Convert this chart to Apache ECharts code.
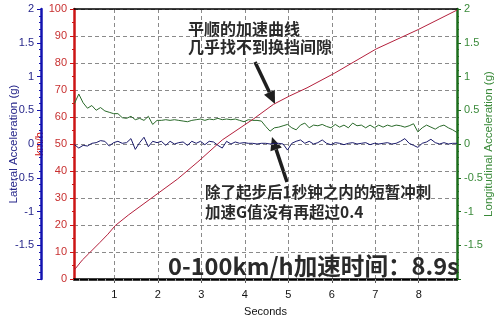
<!DOCTYPE html>
<html>
<head>
<meta charset="utf-8">
<script src="https://cdn.jsdelivr.net/npm/echarts@6/dist/echarts.min.js"></script>
<style>
  html, body { margin: 0; padding: 0; background: #ffffff; }
  #chart { width: 503px; height: 322px; }
</style>
</head>
<body>
<div id="chart"></div>
<script>
// Sample times (s) for the two acceleration traces
const seconds = [
  0.08, 0.18, 0.28, 0.38, 0.48, 0.58, 0.68, 0.78, 0.88, 0.98,
  1.08, 1.18, 1.28, 1.38, 1.48, 1.58, 1.68, 1.78, 1.88, 1.98,
  2.08, 2.18, 2.28, 2.38, 2.48, 2.58, 2.68, 2.78, 2.88, 2.98,
  3.08, 3.18, 3.28, 3.38, 3.48, 3.58, 3.68, 3.78, 3.88, 3.98,
  4.08, 4.18, 4.28, 4.38, 4.48, 4.58, 4.68, 4.78, 4.88, 4.98,
  5.08, 5.18, 5.28, 5.38, 5.48, 5.58, 5.68, 5.78, 5.88, 5.98,
  6.08, 6.18, 6.28, 6.38, 6.48, 6.58, 6.68, 6.78, 6.88, 6.98,
  7.08, 7.18, 7.28, 7.38, 7.48, 7.58, 7.68, 7.78, 7.88, 7.98,
  8.08, 8.18, 8.28, 8.38, 8.48, 8.58, 8.68, 8.78, 8.88
];

// Longitudinal acceleration (g)
const longitudinalG = [
  0.60, 0.74, 0.61, 0.53, 0.57, 0.50, 0.54, 0.49, 0.47, 0.45,
  0.45, 0.39, 0.38, 0.41, 0.36, 0.38, 0.35, 0.41, 0.29, 0.35,
  0.35, 0.36, 0.35, 0.36, 0.35, 0.34, 0.33, 0.35, 0.36, 0.37,
  0.35, 0.37, 0.36, 0.38, 0.36, 0.37, 0.36, 0.37, 0.35, 0.33,
  0.36, 0.35, 0.35, 0.34, 0.26, 0.19, 0.24, 0.25, 0.27, 0.29,
  0.24, 0.21, 0.28, 0.31, 0.24, 0.28, 0.27, 0.29, 0.26, 0.24,
  0.29, 0.25, 0.28, 0.24, 0.31, 0.27, 0.28, 0.24, 0.28, 0.24,
  0.28, 0.25, 0.28, 0.26, 0.28, 0.27, 0.25, 0.27, 0.30, 0.18,
  0.24, 0.28, 0.25, 0.22, 0.26, 0.28, 0.24, 0.21, 0.17
];

// Lateral acceleration (g)
const lateralG = [
  -0.01, -0.06, -0.02, -0.03, 0.01, 0.02, 0.05, 0.04, -0.03, 0.02,
  0.04, 0.01, 0.02, 0.08, -0.08, 0.02, 0.10, -0.04, 0.04, 0.02,
  0.04, -0.02, 0.04, 0.00, 0.02, 0.03, -0.02, 0.04, 0.01, 0.04,
  -0.01, 0.04, 0.03, -0.02, -0.06, 0.04, 0.00, 0.03, 0.01, 0.02,
  0.01, 0.01, 0.00, 0.01, 0.01, 0.00, 0.01, 0.01, 0.00, -0.09,
  0.01, 0.04, 0.06, 0.01, 0.04, 0.00, 0.02, 0.06, 0.01, -0.01,
  0.02, 0.01, -0.01, 0.01, 0.02, 0.00, 0.01, 0.02, -0.01, 0.01,
  0.00, 0.01, 0.02, 0.00, 0.01, 0.04, 0.08, 0.01, -0.02, -0.05,
  0.01, 0.03, 0.07, 0.02, 0.00, 0.02, 0.00, 0.01, 0.01
];

// Vehicle speed (km/h)
const speedSeconds = [0.08, 0.26, 0.41, 0.67, 0.85, 1.02, 1.33, 2.00, 2.45, 2.92, 3.48, 4.20, 4.66, 5.03, 5.43, 6.06, 7.02, 7.99, 8.88];
const speedKmh     = [3.4,  7.0,  9.4,  13.6, 16.6, 19.8, 23.8, 31.7, 37.0, 43.4, 51.5, 59.3, 64.7, 67.8, 70.8, 76.2, 85.2, 92.4, 99.6];

// Axis ticks
const secondTicks = [1, 2, 3, 4, 5, 6, 7, 8];
const timeRange = [0.07, 8.88];

const RED = '#cc1515';
const BLUE = '#1212b0';
const GREEN = '#1c6e1c';
const INK = '#2a2a2a';
const CJK = '"Noto Sans CJK SC", "Noto Sans", sans-serif';
const LATIN = '"Liberation Sans", Arial, sans-serif';

const pair = (xs, ys) => xs.map((x, i) => [x, ys[i]]);

// fine tick marks along the time axis
const fineTicks = [];
for (let k = 1; k < 45; k++) fineTicks.push(Math.round(k * 0.2 * 100) / 100);

function arrow(x1, y1, x2, y2) {
  const dx = x2 - x1, dy = y2 - y1;
  const len = Math.hypot(dx, dy);
  const ux = dx / len, uy = dy / len;
  const head = 13, half = 6;
  const bx = x2 - ux * head, by = y2 - uy * head;
  return {
    type: 'group',
    children: [
      { type: 'line', shape: { x1: x1, y1: y1, x2: bx, y2: by },
        style: { stroke: '#1e1e1e', lineWidth: 3.5 } },
      { type: 'polygon',
        shape: { points: [[x2, y2], [bx - uy * half, by + ux * half], [bx + uy * half, by - ux * half]] },
        style: { fill: '#1e1e1e' } }
    ]
  };
}

const gAxis = (pos, color, labelColor, name, nameGap, offset) => ({
  type: 'value',
  position: pos,
  offset: offset,
  min: -2, max: 2, interval: 0.5,
  name: name,
  nameLocation: 'middle',
  nameGap: nameGap,
  nameRotate: 90,
  nameMoveOverlap: false,
  nameTextStyle: { color: labelColor, fontSize: 11.5, fontFamily: LATIN },
  axisLine: { show: true, onZero: false, lineStyle: { color: color, width: 2.5 } },
  axisTick: { show: true, inside: false, length: 4, lineStyle: { color: color } },
  minorTick: { show: true, splitNumber: 5, length: 2, lineStyle: { color: color } },
  axisLabel: {
    color: labelColor, fontSize: 11, fontFamily: LATIN, margin: 7,
    formatter: v => (v === -2 ? '' : String(v))
  },
  splitLine: { show: false }
});

const chart = echarts.init(document.getElementById('chart'), null, { renderer: 'canvas' });

chart.setOption({
  animation: false,
  backgroundColor: '#ffffff',
  grid: { left: 67, right: 38, top: 9, bottom: 36 },
  xAxis: [
    {
      type: 'value',
      min: timeRange[0], max: timeRange[1],
      name: 'Seconds',
      nameLocation: 'middle',
      nameGap: 27,
      nameTextStyle: { color: '#111', fontSize: 11, fontFamily: LATIN },
      axisLine: { show: true, onZero: false, lineStyle: { color: '#000', width: 2.5 } },
      axisTick: { show: true, customValues: secondTicks, length: 4, lineStyle: { color: '#555' } },
      axisLabel: { customValues: secondTicks, color: '#111', fontSize: 11, fontFamily: LATIN, margin: 10 },
      splitLine: { show: true, lineStyle: { color: '#8a8a8a', type: [4, 3], width: 1 } }
    },
    {
      type: 'value',
      min: timeRange[0], max: timeRange[1],
      position: 'bottom',
      axisLine: { show: false },
      axisTick: { show: true, customValues: fineTicks, length: 2, lineStyle: { color: '#999' } },
      axisLabel: { show: false },
      splitLine: { show: false }
    },
    {
      type: 'value',
      min: timeRange[0], max: timeRange[1],
      position: 'top',
      axisLine: { show: true, onZero: false, lineStyle: { color: '#000', width: 1.5 } },
      axisTick: { show: false },
      axisLabel: { show: false },
      splitLine: { show: false }
    }
  ],
  yAxis: [
    {
      type: 'value',
      position: 'left',
      min: 0, max: 100, interval: 10,
      name: 'km/h',
      nameLocation: 'middle',
      nameGap: 29,
      nameRotate: 90,
      nameMoveOverlap: false,
      nameTextStyle: { color: RED, fontSize: 11, fontFamily: LATIN },
      axisLine: { show: true, onZero: false, lineStyle: { color: RED, width: 2.5 } },
      axisTick: { show: true, length: 4, lineStyle: { color: RED } },
      minorTick: { show: true, splitNumber: 2, length: 2, lineStyle: { color: RED } },
      axisLabel: { color: '#c83030', fontSize: 11, fontFamily: LATIN, margin: 7 },
      splitLine: { show: true, lineStyle: { color: '#8a8a8a', type: [4, 3], width: 1 } }
    },
    gAxis('left', BLUE, '#26268a', 'Lateral Acceleration (g)', 21, 33),
    gAxis('right', GREEN, '#3a8a3a', 'Longitudinal Acceleration (g)', 26, 0)
  ],
  series: [
    {
      name: 'Longitudinal',
      type: 'line',
      yAxisIndex: 2,
      data: pair(seconds, longitudinalG),
      showSymbol: false,
      lineStyle: { color: '#2a6a2a', width: 1 }
    },
    {
      name: 'Lateral',
      type: 'line',
      yAxisIndex: 1,
      data: pair(seconds, lateralG),
      showSymbol: false,
      lineStyle: { color: '#1a1a6a', width: 1 }
    },
    {
      name: 'Speed',
      type: 'line',
      yAxisIndex: 0,
      data: pair(speedSeconds, speedKmh),
      showSymbol: false,
      lineStyle: { color: '#b4203c', width: 1 }
    }
  ],
  graphic: [
    {
      type: 'text', left: 188, top: 20, z: 10,
      style: { text: '平顺的加速曲线\n几乎找不到换挡间隙', fill: INK, font: 'bold 16px ' + CJK, lineHeight: 18 }
    },
    {
      type: 'text', left: 205, top: 182, z: 10,
      style: { text: '除了起步后1秒钟之内的短暂冲刺\n加速G值没有再超过0.4', fill: INK, font: 'bold 15.5px ' + CJK, lineHeight: 20 }
    },
    {
      type: 'text', left: 168, top: 254, z: 10,
      style: { text: '0-100km/h加速时间：8.9s', fill: INK, font: 'bold 23.6px ' + CJK }
    },
    Object.assign(arrow(255, 62, 275, 104), { z: 10 }),
    Object.assign(arrow(287, 182, 272, 137), { z: 10 })
  ]
});
</script>
</body>
</html>
